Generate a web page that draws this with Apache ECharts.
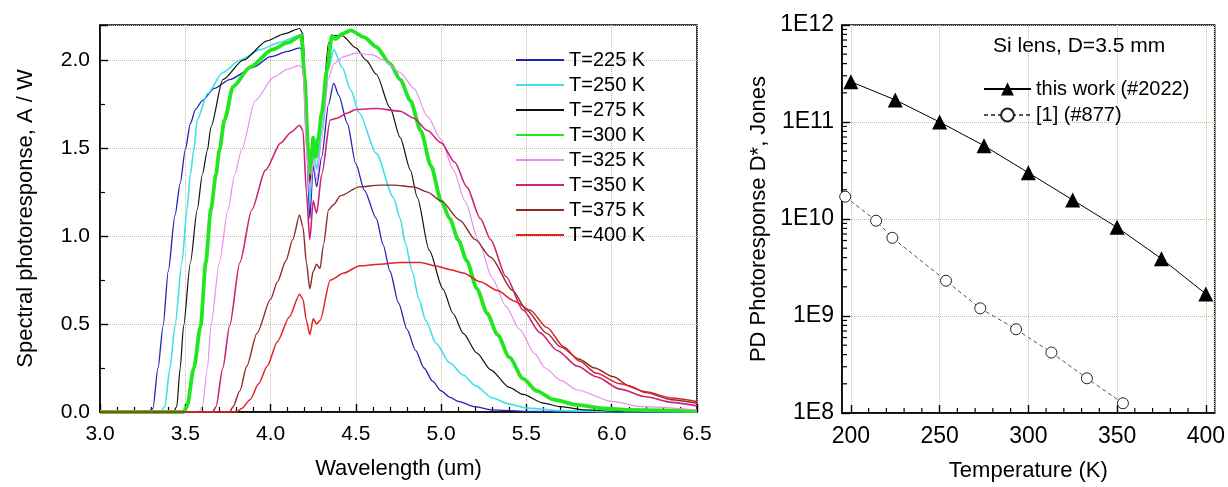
<!DOCTYPE html>
<html><head><meta charset="utf-8">
<script src="https://cdn.jsdelivr.net/npm/echarts@6/dist/echarts.min.js"></script>
<style>html,body{margin:0;padding:0;background:#fff}#c{width:1228px;height:487px}</style>
</head><body><div id="c"></div><script>
// ---- Left chart: spectral photoresponse (A/W) vs wavelength (um) ----
const seriesNames = ['T=225 K','T=250 K','T=275 K','T=300 K','T=325 K','T=350 K','T=375 K','T=400 K'];
const T225 = [[3.0,0],[3.28,0],[3.31,0.02],[3.34,0.25],[3.37,0.49],[3.40,0.80],[3.44,1.12],[3.47,1.30],[3.50,1.49],[3.53,1.64],[3.56,1.72],[3.60,1.77],[3.67,1.84],[3.76,1.89],[3.90,1.96],[4.00,2.02],[4.10,2.05],[4.17,2.07],[4.19,2.05],[4.21,1.55],[4.23,1.10],[4.25,1.40],[4.27,1.28],[4.30,1.45],[4.34,1.75],[4.37,1.87],[4.40,1.80],[4.45,1.64],[4.50,1.41],[4.55,1.26],[4.62,1.10],[4.66,0.95],[4.70,0.80],[4.75,0.62],[4.80,0.47],[4.85,0.35],[4.90,0.25],[4.95,0.175],[5.00,0.12],[5.05,0.085],[5.10,0.06],[5.20,0.03],[5.30,0.012],[5.50,0.004],[6.0,0.001],[6.5,0]];
const T250 = [[3.0,0],[3.35,0],[3.38,0.03],[3.41,0.25],[3.44,0.49],[3.48,0.85],[3.51,1.15],[3.53,1.35],[3.55,1.49],[3.57,1.66],[3.63,1.81],[3.72,1.93],[3.82,2.00],[3.94,2.06],[4.05,2.10],[4.17,2.14],[4.19,2.10],[4.21,1.60],[4.23,1.20],[4.25,1.48],[4.27,1.38],[4.30,1.60],[4.34,1.95],[4.37,2.06],[4.42,1.96],[4.47,1.83],[4.52,1.70],[4.62,1.47],[4.72,1.22],[4.76,1.10],[4.79,0.96],[4.83,0.80],[4.87,0.64],[4.91,0.52],[4.97,0.39],[5.05,0.28],[5.13,0.21],[5.20,0.15],[5.30,0.08],[5.40,0.045],[5.50,0.022],[5.70,0.008],[6.0,0.002],[6.5,0]];
const T275 = [[3.0,0],[3.43,0],[3.45,0.03],[3.47,0.25],[3.49,0.49],[3.53,0.85],[3.57,1.15],[3.60,1.35],[3.63,1.49],[3.65,1.62],[3.72,1.89],[3.84,2.00],[3.98,2.11],[4.08,2.15],[4.17,2.18],[4.19,2.15],[4.21,1.70],[4.23,1.30],[4.25,1.52],[4.27,1.45],[4.30,1.70],[4.34,2.10],[4.37,2.14],[4.42,2.14],[4.50,2.07],[4.56,2.00],[4.62,1.92],[4.70,1.73],[4.76,1.56],[4.82,1.375],[4.86,1.22],[4.93,0.92],[5.01,0.70],[5.07,0.56],[5.13,0.447],[5.21,0.335],[5.29,0.24],[5.40,0.14],[5.48,0.10],[5.60,0.05],[5.70,0.03],[5.85,0.012],[6.0,0.005],[6.5,0]];
const T300 = [[3.0,0],[3.49,0],[3.51,0.03],[3.55,0.25],[3.59,0.49],[3.62,0.85],[3.65,1.15],[3.68,1.35],[3.70,1.49],[3.73,1.66],[3.78,1.85],[3.88,1.96],[4.01,2.06],[4.10,2.10],[4.18,2.14],[4.20,1.90],[4.22,1.50],[4.235,1.36],[4.25,1.56],[4.265,1.45],[4.28,1.56],[4.30,1.70],[4.33,1.94],[4.36,2.14],[4.38,2.12],[4.42,2.15],[4.47,2.17],[4.55,2.13],[4.62,2.075],[4.70,1.98],[4.76,1.89],[4.82,1.77],[4.88,1.60],[4.94,1.40],[5.00,1.20],[5.05,1.10],[5.10,0.98],[5.15,0.86],[5.21,0.70],[5.27,0.56],[5.33,0.44],[5.40,0.31],[5.48,0.19],[5.56,0.12],[5.66,0.07],[5.80,0.04],[5.95,0.02],[6.1,0.012],[6.5,0.005]];
const T325 = [[3.0,0],[3.58,0],[3.60,0.03],[3.63,0.25],[3.65,0.49],[3.70,0.85],[3.75,1.15],[3.79,1.35],[3.83,1.49],[3.91,1.77],[4.02,1.905],[4.10,1.95],[4.17,1.97],[4.19,1.95],[4.21,1.50],[4.23,1.25],[4.25,1.42],[4.27,1.32],[4.30,1.55],[4.34,1.90],[4.37,1.98],[4.43,2.02],[4.50,2.04],[4.60,2.03],[4.66,2.00],[4.76,1.93],[4.84,1.84],[4.92,1.68],[5.00,1.55],[5.07,1.38],[5.14,1.20],[5.22,0.97],[5.30,0.76],[5.38,0.60],[5.46,0.47],[5.55,0.33],[5.61,0.25],[5.70,0.18],[5.80,0.125],[6.00,0.06],[6.18,0.03],[6.5,0.011]];
const T350 = [[3.0,0],[3.66,0],[3.68,0.03],[3.72,0.25],[3.76,0.49],[3.82,0.85],[3.89,1.15],[3.97,1.375],[4.06,1.53],[4.12,1.59],[4.17,1.63],[4.19,1.60],[4.21,1.25],[4.23,0.98],[4.25,1.20],[4.27,1.13],[4.30,1.35],[4.35,1.66],[4.39,1.67],[4.45,1.70],[4.50,1.72],[4.62,1.725],[4.76,1.71],[4.84,1.67],[4.92,1.60],[5.00,1.53],[5.08,1.42],[5.15,1.28],[5.23,1.10],[5.29,0.98],[5.38,0.77],[5.48,0.58],[5.58,0.45],[5.68,0.35],[5.80,0.26],[5.91,0.20],[6.05,0.13],[6.20,0.087],[6.35,0.055],[6.5,0.035]];
const T375 = [[3.0,0],[3.76,0],[3.78,0.03],[3.82,0.12],[3.86,0.26],[3.92,0.447],[4.00,0.64],[4.04,0.74],[4.09,0.86],[4.13,0.98],[4.17,1.12],[4.19,1.05],[4.21,0.85],[4.23,0.70],[4.25,0.80],[4.27,0.84],[4.29,0.815],[4.31,0.95],[4.34,1.15],[4.37,1.18],[4.41,1.23],[4.52,1.28],[4.64,1.29],[4.72,1.29],[4.84,1.28],[4.92,1.25],[5.00,1.20],[5.11,1.09],[5.20,0.98],[5.29,0.88],[5.42,0.69],[5.50,0.58],[5.62,0.447],[5.70,0.37],[5.81,0.30],[5.90,0.25],[6.01,0.20],[6.10,0.15],[6.20,0.11],[6.35,0.07],[6.5,0.05]];
const T400 = [[3.0,0],[3.80,0],[3.83,0.02],[3.88,0.07],[3.93,0.16],[3.98,0.26],[4.04,0.40],[4.11,0.54],[4.17,0.67],[4.19,0.64],[4.21,0.52],[4.23,0.44],[4.25,0.53],[4.27,0.50],[4.29,0.52],[4.35,0.75],[4.43,0.79],[4.52,0.83],[4.64,0.84],[4.76,0.85],[4.88,0.85],[4.97,0.83],[5.05,0.81],[5.13,0.79],[5.23,0.74],[5.33,0.69],[5.43,0.63],[5.52,0.58],[5.62,0.48],[5.72,0.37],[5.81,0.29],[5.91,0.22],[6.05,0.16],[6.20,0.115],[6.35,0.08],[6.5,0.06]];
const leftData = [T225,T250,T275,T300,T325,T350,T375,T400];
const leftColors = ['#2323b4','#3fe0ea','#111111','#22e622','#ec8cec','#cc2277','#8e2a2a','#e02424'];
const leftWidths = [1.3,1.6,1.2,3.8,1.2,1.6,1.4,1.5];

// ---- Right chart: D* vs temperature ----
const tempThisWork = [200,225,250,275,300,325,350,375,400];
const dThisWork = [2.6e11,1.69e11,1.0e11,5.7e10,3.0e10,1.57e10,8.2e9,3.9e9,1.69e9];
const tempRef = [196.8,214.2,223.4,253.6,272.9,293.1,313.0,333.0,353.3];
const dRef = [1.7e10,9.6e9,6.4e9,2.31e9,1.2e9,7.3e8,4.2e8,2.28e8,1.26e8];
const logMantissas = [2,3,4,5,6,7,8,9];
const logDecades = [1e8,1e9,1e10,1e11];
const tempMinor = [210,220,230,240,260,270,280,290,310,320,330,340,360,370,380,390];

const FONT = '"Liberation Sans", Arial, Helvetica, sans-serif';
const yMinorR = [];
logDecades.forEach(d => logMantissas.forEach(m => yMinorR.push([195, m * d])));
const xMinorR = tempMinor.map(t => [t, 1e8]);

const gridLine = {show:true, lineStyle:{type:'dotted', color:'#c4bc9e', width:1}};
const axLine = {show:true, onZero:false, lineStyle:{color:'#000', width:1.5}};
const tick = {show:true, inside:true, length:8, lineStyle:{color:'#000', width:1.4}};

const chart = echarts.init(document.getElementById('c'), null, {renderer:'canvas'});
const series = leftData.map((d,i) => ({
  type:'line', name:seriesNames[i], xAxisIndex:0, yAxisIndex:0, data:d,
  symbol:'none', smooth:0.25, smoothMonotone:'x',
  lineStyle:{color:leftColors[i], width:leftWidths[i]}, itemStyle:{color:leftColors[i]}
}));
series.push({
  type:'line', name:'this work (#2022)', xAxisIndex:1, yAxisIndex:1,
  data: tempThisWork.map((t,i)=>[t,dThisWork[i]]),
  symbol:'triangle', symbolSize:15,
  lineStyle:{color:'#000', width:1}, itemStyle:{color:'#000'}
});
series.push({
  type:'line', name:'[1] (#877)', xAxisIndex:1, yAxisIndex:1,
  data: tempRef.map((t,i)=>[t,dRef[i]]),
  symbol:'circle', symbolSize:11,
  lineStyle:{color:'#555', width:1, type:[4,3]},
  itemStyle:{color:'#fff', borderColor:'#222', borderWidth:1}
});
series.push({
  type:'custom', xAxisIndex:1, yAxisIndex:1, data:yMinorR, silent:true, z:5,
  renderItem:(params, api) => {
    const p = api.coord([api.value(0), api.value(1)]);
    return {type:'line', shape:{x1:p[0], y1:p[1], x2:p[0]+5, y2:p[1]}, style:{stroke:'#000', lineWidth:1.2}};
  }
});
series.push({
  type:'custom', xAxisIndex:1, yAxisIndex:1, data:xMinorR, silent:true, z:5,
  renderItem:(params, api) => {
    const p = api.coord([api.value(0), api.value(1)]);
    return {type:'line', shape:{x1:p[0], y1:p[1], x2:p[0], y2:p[1]-5}, style:{stroke:'#000', lineWidth:1.2}};
  }
});

chart.setOption({
  animation:false,
  backgroundColor:'#fff',
  textStyle:{fontFamily:FONT},
  title:{text:'Si lens, D=3.5 mm', left:993, top:36, padding:0,
    textStyle:{fontSize:21, fontWeight:'normal', color:'#000', fontFamily:FONT}},
  grid:[
    {left:100, top:25, width:597, height:387, show:true, borderColor:'#000', borderWidth:1.5, containLabel:false},
    {left:842, top:25, width:375, height:388, show:true, borderColor:'#000', borderWidth:1.5, containLabel:false}
  ],
  legend:[
    {data:seriesNames, orient:'vertical', left:515, top:50, padding:0, itemWidth:48, itemHeight:14, itemGap:5,
      itemStyle:{opacity:0, borderWidth:0},
      textStyle:{fontSize:20, lineHeight:20, color:'#000', fontFamily:FONT}},
    {data:['this work (#2022)','[1] (#877)'], orient:'vertical', left:983, top:79, padding:0, itemWidth:47, itemHeight:16, itemGap:6,
      textStyle:{fontSize:20, lineHeight:20, color:'#000', fontFamily:FONT}}
  ],
  xAxis:[
    {gridIndex:0, type:'value', min:3.0, max:6.5, interval:0.5,
      name:'Wavelength (um)', nameLocation:'middle', nameGap:46,
      nameTextStyle:{fontSize:22, color:'#000', fontFamily:FONT},
      axisLine:axLine, axisTick:tick,
      minorTick:{show:true, splitNumber:5, length:5, lineStyle:{color:'#000', width:1.2}},
      axisLabel:{fontSize:21, color:'#000', margin:12, fontFamily:FONT, formatter:v=>v.toFixed(1)},
      splitLine:gridLine},
    {gridIndex:1, type:'value', min:195, max:405, splitNumber:4,
      name:'Temperature (K)', nameLocation:'middle', nameGap:47,
      nameTextStyle:{fontSize:22, color:'#000', fontFamily:FONT},
      axisLine:axLine, axisTick:tick,
      axisLabel:{fontSize:23, color:'#000', margin:12, fontFamily:FONT, showMinLabel:false, showMaxLabel:false},
      splitLine:gridLine}
  ],
  yAxis:[
    {gridIndex:0, type:'value', min:0, max:2.2, interval:0.5,
      name:'Spectral photoresponse, A / W', nameLocation:'middle', nameGap:63,
      nameTextStyle:{fontSize:22, color:'#000', fontFamily:FONT},
      axisLine:axLine, axisTick:tick,
      minorTick:{show:true, splitNumber:2, length:5, lineStyle:{color:'#000', width:1.2}},
      axisLabel:{fontSize:21, color:'#000', margin:10, fontFamily:FONT, showMaxLabel:false, formatter:v=>v.toFixed(1)},
      splitLine:gridLine},
    {gridIndex:1, type:'log', logBase:10, min:1e8, max:1e12,
      name:'PD Photoresponse D*, Jones', nameLocation:'middle', nameGap:72,
      nameTextStyle:{fontSize:22, color:'#000', fontFamily:FONT},
      axisLine:axLine, axisTick:tick,
      axisLabel:{fontSize:23, color:'#000', margin:8, fontFamily:FONT, formatter:v=>'1E'+Math.round(Math.log10(v))},
      splitLine:gridLine}
  ],
  series:series
});
</script></body></html>
